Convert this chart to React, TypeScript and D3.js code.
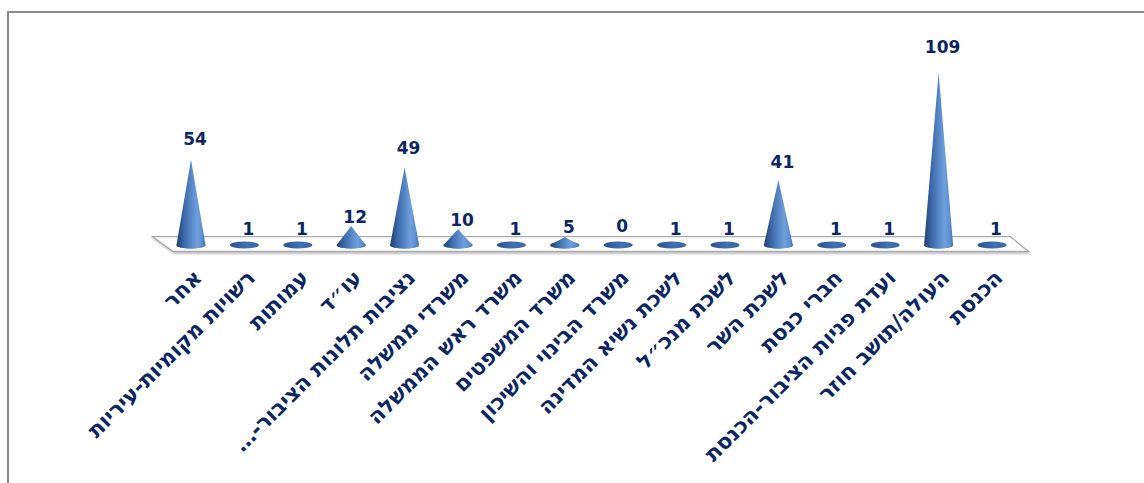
import React from "react";
import * as d3 from "d3";

// Complaint counts by source
const categories: string[] = [
  "אחר",
  "רשויות מקומיות-עיריות",
  "עמותות",
  "עו״ד",
  "נציבות תלונות הציבור-…",
  "משרדי ממשלה",
  "משרד ראש הממשלה",
  "משרד המשפטים",
  "משרד הבינוי והשיכון",
  "לשכת נשיא המדינה",
  "לשכת מנכ״ל",
  "לשכת השר",
  "חברי כנסת",
  "ועדת פניות הציבור-הכנסת",
  "העולה/תושב חוזר",
  "הכנסת",
];
const values: number[] = [54, 1, 1, 12, 49, 10, 1, 5, 0, 1, 1, 41, 1, 1, 109, 1];

const W = 1144;
const H = 483;
const NAVY = "#0b2660";
const FONT = "'DejaVu Sans', 'Liberation Sans', sans-serif";

export default function App() {
  const x = d3.scalePoint<string>().domain(categories).range([191, 992]);
  const y = d3.scaleLinear().domain([0, 120]).range([245, 55]);
  const baseY = y(0);
  const rx = 14.5;
  const ry = 3.6;

  // distance between a cone's apex and its value label baseline
  const labelGap = d3
    .scaleLinear()
    .domain([0, 3, 20, 65, 85, 172])
    .range([13, 4, 3, 12, 14.5, 19])
    .clamp(true);

  const x0 = x(categories[0])!;
  const xN = x(categories[categories.length - 1])!;
  const floorBack = 237;
  const floorFront = 251;
  const floor = [
    [x0 - 37, floorBack],
    [xN + 18, floorBack],
    [xN + 35, floorFront],
    [x0 - 18, floorFront],
  ];
  const floorPath = d3.line()(floor as [number, number][]) + "Z";

  return (
    <svg
      width={W}
      height={H}
      style={{ position: "absolute", left: 0, top: 0, background: "#fff" }}
    >
      <defs>
        <linearGradient id="coneGrad" x1="0" x2="1" y1="0" y2="0">
          <stop offset="0" stopColor="#1f3f6e" />
          <stop offset="0.25" stopColor="#3a67a8" />
          <stop offset="0.7" stopColor="#6e9fdd" />
          <stop offset="0.88" stopColor="#5e8fd0" />
          <stop offset="1" stopColor="#4572b2" />
        </linearGradient>
        <linearGradient id="baseGrad" x1="0" x2="1" y1="0" y2="0">
          <stop offset="0" stopColor="#2b5190" />
          <stop offset="0.6" stopColor="#4470ae" />
          <stop offset="1" stopColor="#3a64a3" />
        </linearGradient>
        <filter id="floorShadow" x="-5%" y="-50%" width="110%" height="200%">
          <feDropShadow dx="1" dy="2" stdDeviation="1" floodColor="#000" floodOpacity="0.25" />
        </filter>
      </defs>

      {/* chart frame */}
      <rect x={8} y={12} width={W + 20} height={H + 20} fill="none" stroke="#8a8a8a" strokeWidth={2} />

      {/* floor */}
      <path d={floorPath} fill="#fff" stroke="#9a9a9a" strokeWidth={2.2} filter="url(#floorShadow)" />
      <path d={floorPath} fill="#fff" stroke="#c8c8c8" strokeWidth={0.8} />

      {/* cones */}
      {categories.map((c, i) => {
        const cx = x(c)!;
        const top = y(values[i]);
        const h = baseY - top;
        const cone = `M${cx - rx},${baseY} L${cx},${top} L${cx + rx},${baseY} A${rx},${ry} 0 0 1 ${cx - rx},${baseY} Z`;
        return (
          <g key={c}>
            <ellipse cx={cx} cy={baseY} rx={rx} ry={ry} fill="url(#baseGrad)" />
            {h > 2 && <path d={cone} fill="url(#coneGrad)" />}
          </g>
        );
      })}

      {/* value labels */}
      {categories.map((c, i) => {
        const top = y(values[i]);
        return (
          <text
            key={"v" + c}
            x={x(c)! + 4}
            y={top - labelGap(baseY - top)}
            textAnchor="middle"
            fontFamily={FONT}
            fontWeight="bold"
            fontSize={17}
            fill={NAVY}
          >
            {values[i]}
          </text>
        );
      })}

      {/* category labels */}
      {categories.map((c) => (
        <text
          key={"c" + c}
          transform={`translate(${x(c)! + 12},${279}) rotate(-45)`}
          direction="rtl"
          textAnchor="start"
          fontFamily={FONT}
          fontWeight="bold"
          fontSize={21.5}
          fill={NAVY}
        >
          {c}
        </text>
      ))}
    </svg>
  );
}
